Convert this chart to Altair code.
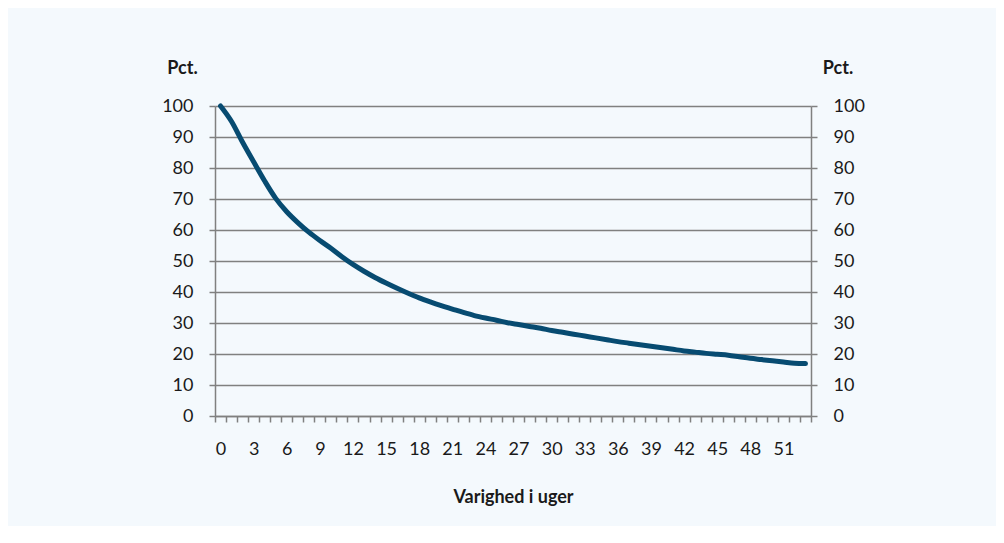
import altair as alt
import pandas as pd

# Data
weeks = list(range(0, 54))
pct = [100, 95, 88.3, 82, 75.8, 70.2, 65.9, 62.4, 59.3, 56.6,
       54.1, 51.4, 48.9, 46.7, 44.7, 42.9, 41.2, 39.6, 38.1, 36.8,
       35.6, 34.5, 33.4, 32.4, 31.6, 30.9, 30.1, 29.5, 28.9, 28.3,
       27.6, 27.0, 26.4, 25.8, 25.2, 24.6, 24.0, 23.5, 23.0, 22.5,
       22.0, 21.5, 21.0, 20.6, 20.2, 19.9, 19.6, 19.1, 18.6, 18.2,
       17.8, 17.4, 17.0, 16.9]
x_label_values = list(range(0, 52, 3))
y_tick_values = list(range(0, 101, 10))
y_title = "Pct."
x_title = "Varighed i uger"

df = pd.DataFrame({"uge": weeks, "pct": pct})

FONT = "Lato"
GREY = "#808080"
TXT = "#1a1a1a"
LINE = "#074b71"
GW = 1.5

x_tick_positions = [w - 0.5 for w in weeks] + [weeks[-1] + 0.5]
x_values = x_tick_positions + x_label_values

x_axis = alt.Axis(
    values=x_values,
    labelExpr="datum.value % 1 == 0 ? format(datum.value, 'd') : ''",
    tickOpacity={"condition": {"test": "datum.value % 1 != 0", "value": 1}, "value": 0},
    tickSize=6, tickColor=GREY, tickWidth=GW,
    domainColor=GREY, domainWidth=GW,
    grid=False,
    labelFont=FONT, labelFontSize=18, labelColor=TXT, labelPadding=18,
    labelOverlap=False, labelFlush=False, labelBound=False,
    title=x_title, titleFont=FONT, titleFontSize=18, titleFontWeight="bold",
    titleColor=TXT, titleAnchor="middle", titleBaseline="alphabetic",
    titleY=86,
)

x_scale = alt.Scale(domain=[weeks[0] - 0.5, weeks[-1] + 0.5], nice=False, zero=False)
x_enc = alt.X("uge:Q", axis=x_axis, scale=x_scale)

def y_axis(orient, grid, title_x):
    return alt.Axis(
        orient=orient, values=y_tick_values, grid=grid,
        gridColor=GREY, gridWidth=GW,
        tickSize=6, tickColor=GREY, tickWidth=GW,
        domainColor=GREY, domainWidth=GW,
        labelFont=FONT, labelFontSize=18, labelColor=TXT, labelPadding=16,
        title=y_title, titleAngle=0, titleFont=FONT, titleFontSize=18,
        titleFontWeight="bold", titleColor=TXT, titleAlign="center",
        titleBaseline="alphabetic", titleX=title_x, titleY=-33,
    )

y_scale = alt.Scale(domain=[0, 100], nice=False)

line = alt.Chart(df).mark_line(
    color=LINE, strokeWidth=5, interpolate="monotone", strokeCap="round", strokeJoin="round"
).encode(
    x=x_enc,
    y=alt.Y("pct:Q", axis=y_axis("left", True, -33), scale=y_scale),
)

right = alt.Chart(df).mark_line(opacity=0).encode(
    x=x_enc,
    y=alt.Y("pct:Q", axis=y_axis("right", False, 26.5), scale=y_scale),
)

chart = alt.layer(line, right).resolve_scale(y="independent").properties(
    width=596, height=310,
    autosize=alt.AutoSizeParams(type="none"),
    padding={"left": 207, "top": 98, "right": 185, "bottom": 110},
    background="#f4f9fd",
).configure_view(stroke=None)

chart.save("out.html", embed_options={"renderer": "svg", "actions": False})
